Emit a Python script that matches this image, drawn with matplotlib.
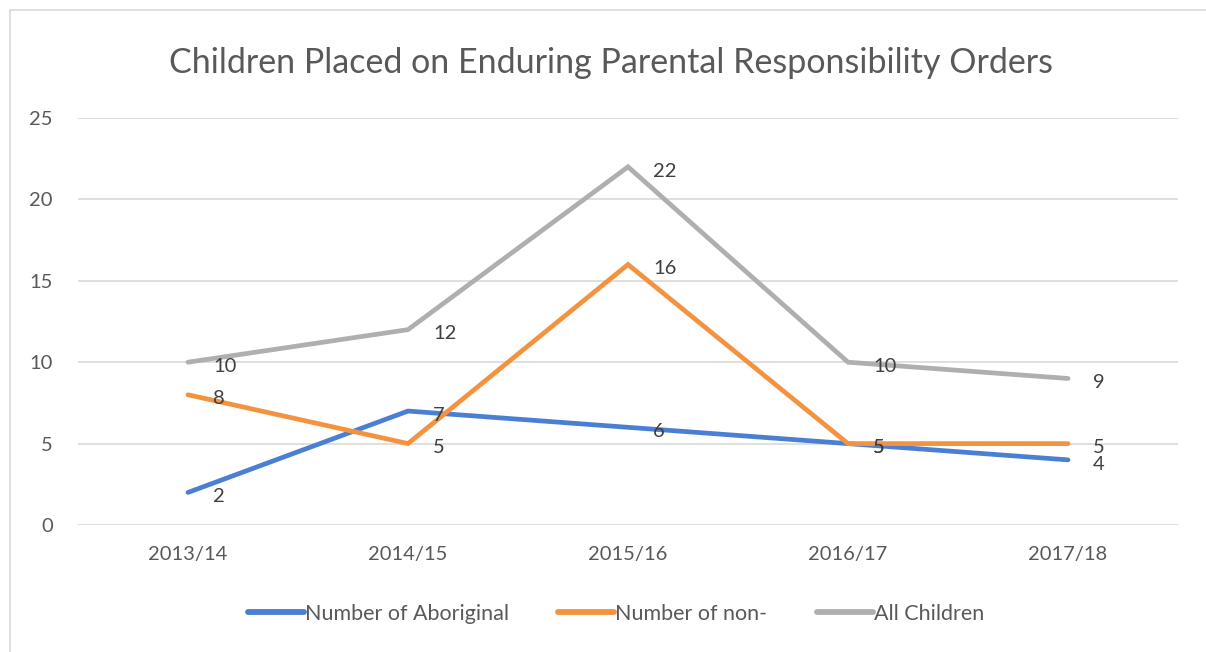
import matplotlib
matplotlib.use("Agg")
import matplotlib.pyplot as plt
from matplotlib.patches import Rectangle

plt.rcParams['font.family'] = ['Lato', 'DejaVu Sans']

years = ["2013/14", "2014/15", "2015/16", "2016/17", "2017/18"]
aboriginal = [2, 7, 6, 5, 4]
non_aboriginal = [8, 5, 16, 5, 5]
all_children = [10, 12, 22, 10, 9]

series = [
    ("Number of Aboriginal", aboriginal, "#4A7FD3"),
    ("Number of non-", non_aboriginal, "#F39340"),
    ("All Children", all_children, "#AFAFAF"),
]

W, H = 1206, 652
fig = plt.figure(figsize=(W / 100, H / 100), dpi=100)
ax = fig.add_axes([78 / W, 1 - 525 / H, 1100 / W, (525 - 118) / H])

# chart frame (only top/left edges fall inside the image)
fig.patches.append(Rectangle((10 / W, -0.1), 1.2, 1 - 10 / H + 0.1,
                             transform=fig.transFigure, fill=False,
                             edgecolor="#D9D9D9", linewidth=1.2))

x = list(range(len(years)))
handles = []
for name, vals, col in series:
    h, = ax.plot(x, vals, color=col, linewidth=3.4, solid_capstyle="round",
                 solid_joinstyle="miter", label=name, zorder=3)
    handles.append(h)
    for xi, v in zip(x, vals):
        ax.annotate(str(v), (xi, v), xytext=(18, -3), textcoords="offset points",
                    ha="left", va="center", fontsize=14.5, color="#404040",
                    zorder=4)

ax.set_xlim(-0.5, len(years) - 0.5)
ax.set_ylim(0, 25)
ax.set_yticks(range(0, 26, 5))
ax.set_xticks(x)
ax.set_xticklabels(years)
ax.grid(axis="y", color="#D9D9D9", linewidth=1.2)
ax.set_axisbelow(True)
for s in ax.spines.values():
    s.set_visible(False)
ax.tick_params(length=0, labelsize=14.5, colors="#595959")
ax.tick_params(axis="y", pad=18)
ax.tick_params(axis="x", pad=15)

fig.text(611 / W, 1 - 63 / H, "Children Placed on Enduring Parental Responsibility Orders",
         ha="center", va="center", fontsize=24.5, color="#595959")

leg = fig.legend(handles=handles, loc="center", bbox_to_anchor=(616 / W, 1 - 614 / H),
                 ncol=3, frameon=False, fontsize=15.5, handlelength=2.6,
                 handletextpad=0.05, columnspacing=2.3, labelcolor="#595959")
for lh in leg.get_lines():
    lh.set_linewidth(4.2)

fig.savefig("out.png", dpi=100, facecolor="white")
